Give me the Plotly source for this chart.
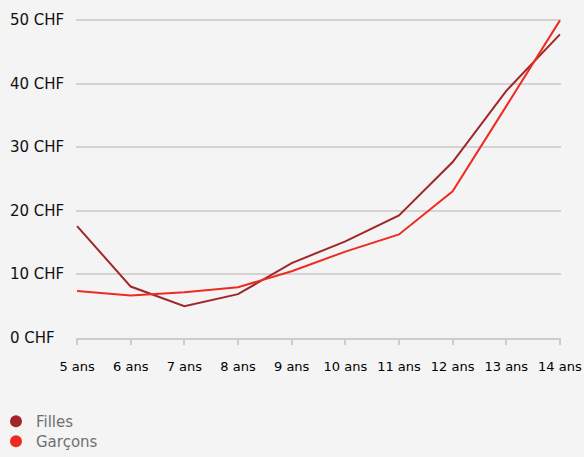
import plotly.graph_objects as go

# Average pocket money by age (CHF)
ages = ["5 ans", "6 ans", "7 ans", "8 ans", "9 ans", "10 ans", "11 ans", "12 ans", "13 ans", "14 ans"]
filles = [17.6, 8.1, 5.0, 6.9, 11.8, 15.2, 19.3, 27.7, 38.9, 47.8]
garcons = [7.4, 6.7, 7.2, 8.0, 10.5, 13.6, 16.3, 23.1, 36.5, 50.0]
y_ticks = [0, 10, 20, 30, 40, 50]
y_labels = [f"{v} CHF" for v in y_ticks]

DARK = "#a0262a"
RED = "#ee2b20"
BG = "#f4f4f4"
W, H = 584, 457
ML, MR, MT, MB = 76, 23, 14, 119

plot_w = W - ML - MR
plot_h = H - MT - MB

fig = go.Figure()
fig.add_trace(go.Scatter(x=ages, y=filles, mode="lines", line=dict(color=DARK, width=2),
                         showlegend=False, hoverinfo="skip"))
fig.add_trace(go.Scatter(x=ages, y=garcons, mode="lines", line=dict(color=RED, width=2),
                         showlegend=False, hoverinfo="skip"))
# legend entries drawn as dots, one legend box per series
fig.add_trace(go.Scatter(x=[None], y=[None], mode="markers", name="Filles",
                         marker=dict(color=DARK, size=12), legend="legend"))
fig.add_trace(go.Scatter(x=[None], y=[None], mode="markers", name="Garçons",
                         marker=dict(color=RED, size=12), legend="legend2"))

# left-aligned value labels for the y axis
for v, lab in zip(y_ticks, y_labels):
    fig.add_annotation(x=(8 - ML) / plot_w, xref="paper", y=v, yref="y",
                       text=lab, showarrow=False, xanchor="left", yanchor="middle",
                       font=dict(family="DejaVu Sans", size=15, color="#111111"))


def legend_box(top_px):
    return dict(x=(-4 - ML) / plot_w, xanchor="left",
                y=-(top_px - (H - MB)) / plot_h, yanchor="top",
                orientation="v", bgcolor="rgba(0,0,0,0)",
                font=dict(family="DejaVu Sans", size=15, color="#707070"))


fig.update_layout(
    width=W, height=H,
    margin=dict(l=ML, r=MR, t=MT, b=MB, autoexpand=False),
    paper_bgcolor=BG, plot_bgcolor=BG,
    xaxis=dict(type="category", range=[-0.02, 9.02], showgrid=False,
               showline=True, linecolor="#cccccc", linewidth=2,
               ticks="outside", ticklen=5, tickwidth=2, tickcolor="#cccccc",
               tickfont=dict(family="DejaVu Sans", size=13, color="#000000"),
               ticklabelstandoff=10, automargin=False, fixedrange=True),
    yaxis=dict(range=[0, 51], tickvals=y_ticks, showticklabels=False,
               showgrid=True, gridcolor="#d3d3d3", gridwidth=2, zeroline=False,
               automargin=False, fixedrange=True),
    legend=legend_box(405),
    legend2=legend_box(425),
    showlegend=True,
)

fig.write_html("out.html")
